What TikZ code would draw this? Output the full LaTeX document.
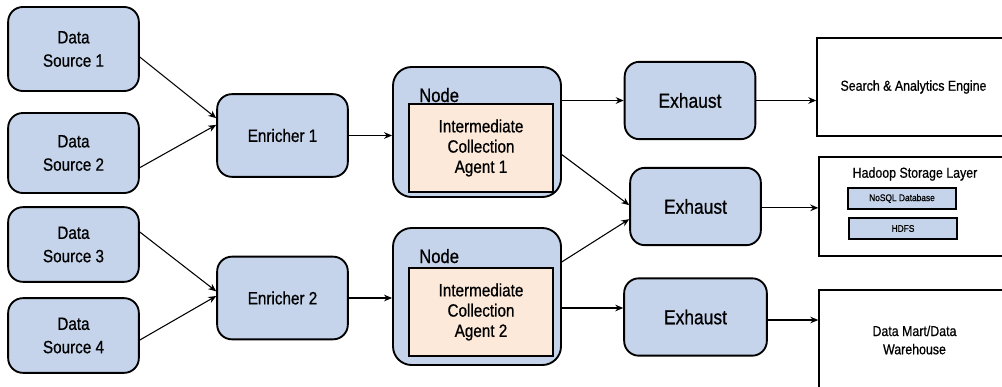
\documentclass[tikz,border=0pt]{standalone}
\usepackage{fontspec}
\setmainfont{Liberation Sans}[FakeStretch=0.86, FakeBold=0.7]
\usepackage{xcolor}
\usepackage{tikz}
\usetikzlibrary{arrows.meta, positioning, calc}
\definecolor{boxblue}{HTML}{C5D4EA}
\definecolor{agentbg}{HTML}{FCE9D9}

\begin{document}
\begin{tikzpicture}[
  x=0.75pt, y=-0.75pt,
  src/.style={rectangle, draw=black, fill=boxblue, rounded corners=11pt, line width=1.4pt,
              minimum width=98pt, minimum height=60pt, align=center,
              font=\fontsize{13.3}{17.5}\selectfont},
  enr/.style={src, minimum height=62pt},
  host/.style={rectangle, draw=black, fill=boxblue, rounded corners=14pt, line width=1.4pt,
               minimum width=126pt},
  agent/.style={rectangle, draw=black, fill=agentbg, line width=1.2pt,
                minimum width=108pt, minimum height=66pt, align=center,
                font=\fontsize{13.3}{15.2}\selectfont},
  hostlbl/.style={anchor=base west, inner sep=0pt, font=\fontsize{14.5}{16}\selectfont},
  exh/.style={src, minimum height=58pt, font=\fontsize{15.2}{16}\selectfont},
  sink/.style={rectangle, draw=black, line width=1.1pt, minimum width=143.25pt,
               align=center, font=\fontsize{10.8}{13.7}\selectfont},
  sub/.style={rectangle, draw=black, fill=boxblue, line width=0.9pt,
              minimum width=81pt, minimum height=15.75pt, font=\fontsize{7.3}{8}\selectfont},
  arr/.style={-{Stealth[length=6pt, width=5pt]}, black, line width=0.8pt}
]
  \useasboundingbox (0,0) rectangle (1002,386);

  % ── Sources ────────────────────────────────────────────────────────────────
  \node[src, minimum height=63pt] (ds1) at (73.5,49)    {Data\\Source 1};
  \node[src]                      (ds2) at (73.5,153)   {Data\\Source 2};
  \node[src, minimum height=56pt] (ds3) at (73.5,244.5) {Data\\Source 3};
  \node[src, minimum height=56pt] (ds4) at (73.5,335.5) {Data\\Source 4};

  % ── Enrichers ──────────────────────────────────────────────────────────────
  \node[enr] (en1) at (282.5,135.5) {Enricher 1};
  \node[enr] (en2) at (282.5,298)   {Enricher 2};

  % ── Collection nodes ───────────────────────────────────────────────────────
  \node[host, minimum height=97.5pt] (nd1) at (477,132)   {};
  \node[agent] (ag1) at (481,148) {Intermediate\\Collection\\Agent 1};
  \node[hostlbl] (nl1) at (419,102) {Node};

  \node[host, minimum height=102.75pt] (nd2) at (477,296.5) {};
  \node[agent] (ag2) at (481,312) {Intermediate\\Collection\\Agent 2};
  \node[hostlbl] (nl2) at (419,263) {Node};

  % ── Exhausts ───────────────────────────────────────────────────────────────
  \node[exh] (ex1) at (690,100.5) {Exhaust};
  \node[exh] (ex2) at (695.5,206.5) {Exhaust};
  \node[exh, minimum width=107pt] (ex3) at (695.5,317) {Exhaust};

  % ── Sinks ──────────────────────────────────────────────────────────────────
  \node[sink, minimum width=144.75pt, minimum height=73.5pt] (sae) at (913.5,87)
    {Search \& Analytics Engine};
  \node[sink, minimum height=74.25pt] (hsl) at (914.5,206.5) {};
  \node[sink, anchor=center, draw=none, inner sep=0pt, minimum width=0pt] (hsllbl) at (915,174)
    {Hadoop Storage Layer};
  \node[sub] (nsq) at (902,198.5) {NoSQL Database};
  \node[sub] (hdf) at (903,228.5) {HDFS};
  \node[sink, minimum height=75pt] (dmw) at (914.5,340) {Data Mart/Data\\Warehouse};

  % ── Arrows ─────────────────────────────────────────────────────────────────
  \draw[arr] ([yshift=-6pt]ds1.east)  -- ([yshift=13pt]en1.west);
  \draw[arr] ([yshift=-11pt]ds2.east) -- ([yshift=8pt]en1.west);
  \draw[arr] ([yshift=9.4pt]ds3.east) -- ([yshift=5pt]en2.west);
  \draw[arr] ([yshift=-3.4pt]ds4.east) -- ([yshift=1.5pt]en2.west);
  \draw[arr] (en1.east) -- (en1.east -| nd1.west);
  \draw[arr] (en2.east) -- (en2.east -| nd2.west);
  \draw[arr] (ex1.west -| nd1.east) -- (ex1.west);
  \draw[arr] ([yshift=-17pt]nd1.east) -- ([yshift=1pt]ex2.west);
  \draw[arr] ([yshift=26pt]nd2.east)  -- ([yshift=-9.5pt]ex2.west);
  \draw[arr] ([yshift=6.75pt]ex3.west -| nd2.east) -- ([yshift=6.75pt]ex3.west);
  \draw[arr] (ex1.east) -- (ex1.east -| sae.west);
  \draw[arr] ([yshift=-1pt]ex2.east) -- ([yshift=-1pt]ex2.east -| hsl.west);
  \draw[arr] ([yshift=-2.25pt]ex3.east) -- ([yshift=-2.25pt]ex3.east -| dmw.west);
\end{tikzpicture}
\end{document}
